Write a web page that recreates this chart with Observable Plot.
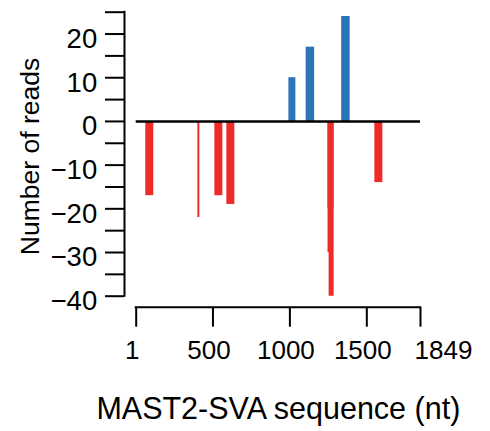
<!DOCTYPE html>
<html><head><meta charset="utf-8">
<script src="https://cdn.jsdelivr.net/npm/d3@7"></script>
<script src="https://cdn.jsdelivr.net/npm/@observablehq/plot@0.6"></script>
<style>body{margin:0;background:#fff}</style>
</head><body><div id="chart"></div>
<script>
// data
const positions = [86, 405, 535, 613, 1013, 1130, 1261, 1264, 1268, 1361, 1575];
const reads     = [-17, -22, -17, -19, 10, 17, -30, -20, -40, 24, -14];
const xTickValues = [1, 500, 1000, 1500, 1849];
const yTickValues = [-40, -35, -30, -25, -20, -15, -10, -5, 0, 5, 10, 15, 20, 25];
const yLabelValues = [-40, -30, -20, -10, 0, 10, 20];
const xTitle = "MAST2-SVA sequence (nt)";
const yTitle = "Number of reads";

// style (line widths per bar, px)
const barWidths = [8, 2, 8, 8, 7, 8.5, 5, 6, 5, 8.5, 8];
const BLUE = "#2a74ba", RED = "#ee2b27";

const rows = positions.map((p, i) => ({pos: p, reads: reads[i], i}));
const fmt = d => d < 0 ? "\u2212" + Math.abs(d) : String(d);
const FONT = "'Liberation Sans', Arial, Helvetica, sans-serif";

const chart = Plot.plot({
  width: 490,
  height: 431,
  marginLeft: 135.7,
  marginRight: 70,
  marginTop: 11.7,
  marginBottom: 135.3,
  style: {fontFamily: FONT, background: "#fff", color: "#000", overflow: "visible"},
  x: {domain: [1, 1849], axis: null},
  y: {domain: [-40, 25], axis: null},
  marks: [
    // bars
    Plot.ruleX(rows, {
      x: "pos", y1: 0, y2: "reads",
      stroke: d => d.reads > 0 ? BLUE : RED,
      strokeWidth: d => barWidths[d.i],
      strokeLinecap: "butt"
    }),
    // zero line
    Plot.ruleY([0], {y: d => d, x1: 1, x2: 1849, stroke: "#000", strokeWidth: 2.5}),
    // y axis line + ticks
    Plot.ruleX([1], {x: d => d, y1: -40, y2: 25, dx: -11.7, stroke: "#000", strokeWidth: 2, strokeLinecap: "square"}),
    Plot.axisY(yTickValues, {anchor: "left", tickSize: 19, dx: -11.7, fill: "none", stroke: "#000", strokeWidth: 2, label: null}),
    Plot.text(yLabelValues, {y: d => d, text: fmt, frameAnchor: "left", textAnchor: "end", dx: -39, dy: 5, fontSize: 27.5, fill: "#000"}),
    // x axis line + ticks
    Plot.ruleY([-40], {y: d => d, x1: 1, x2: 1849, dy: 11, stroke: "#000", strokeWidth: 2, strokeLinecap: "square"}),
    Plot.axisX(xTickValues, {anchor: "bottom", tickSize: 20, dy: 11, fill: "none", stroke: "#000", strokeWidth: 2, label: null}),
    Plot.text(xTickValues.slice(0, 4), {x: d => d, text: fmt, frameAnchor: "bottom", lineAnchor: "bottom", dy: 63, dx: -4, fontSize: 26, fill: "#000"}),
    Plot.text(xTickValues.slice(4), {x: d => d, text: fmt, frameAnchor: "bottom", lineAnchor: "bottom", textAnchor: "start", dy: 63, dx: -6, fontSize: 26, fill: "#000"}),
    // titles
    Plot.text([xTitle], {frameAnchor: "bottom", lineAnchor: "bottom", dy: 122.6, fontSize: 30.5, fill: "#000"}),
    Plot.text([yTitle], {frameAnchor: "left", textAnchor: "middle", rotate: -90, lineAnchor: "bottom", dx: -97.7, dy: 2.3, fontSize: 26.5, fill: "#000"})
  ]
});
document.getElementById("chart").appendChild(chart);
</script>
</body></html>
